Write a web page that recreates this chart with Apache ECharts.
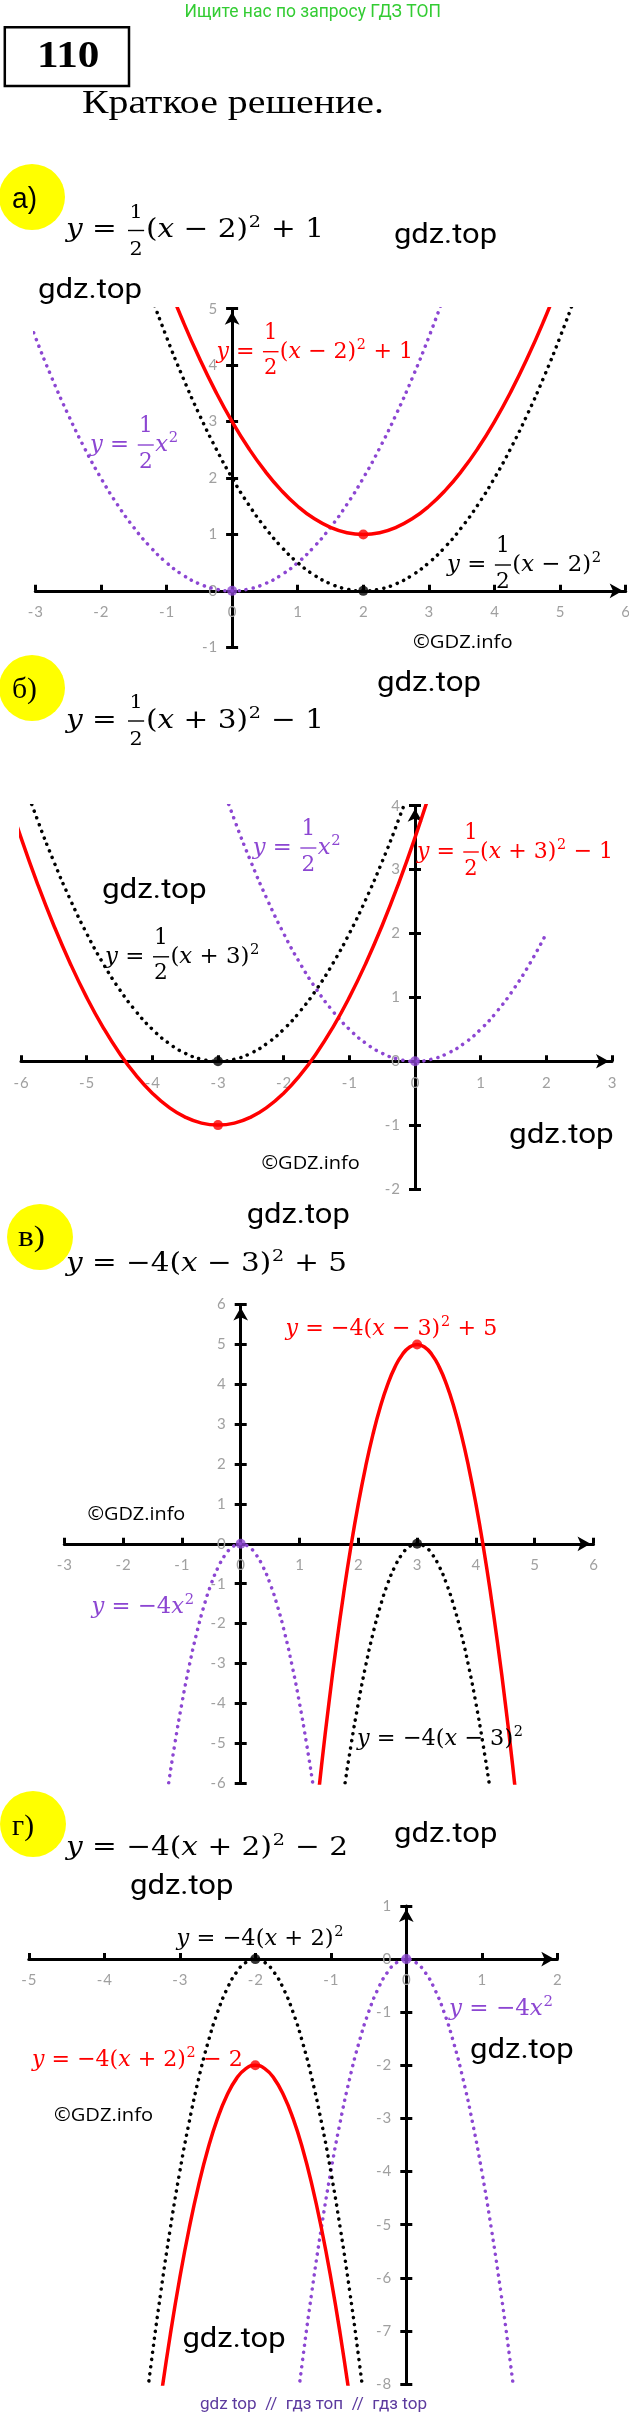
<!DOCTYPE html>
<html><head><meta charset="utf-8">
<script src="https://cdn.jsdelivr.net/npm/echarts@6.0.0/dist/echarts.min.js"></script>
<style>html,body{margin:0;padding:0;background:#fff}#c{width:629px;height:2419px}</style>
</head><body><div id="c"></div>
<script>
// ---------------- DATA ----------------
const panelLetters = ['а)', 'б)', 'в)', 'г)'];
const xRange = [[-3, 6], [-6, 3], [-3, 6], [-5, 2]];
const yRange = [[-1, 5], [-2, 4], [-6, 6], [-8, 1]];

// а)  y = ½x²,  y = ½(x−2)²,  y = ½(x−2)²+1
const aPurple = [[-3.25,5.28125],[-3,4.5],[-2.75,3.78125],[-2.5,3.125],[-2.25,2.53125],[-2,2],[-1.75,1.53125],[-1.5,1.125],[-1.25,0.78125],[-1,0.5],[-0.75,0.28125],[-0.5,0.125],[-0.25,0.03125],[0,0],[0.25,0.03125],[0.5,0.125],[0.75,0.28125],[1,0.5],[1.25,0.78125],[1.5,1.125],[1.75,1.53125],[2,2],[2.25,2.53125],[2.5,3.125],[2.75,3.78125],[3,4.5],[3.25,5.28125]];
const aBlack  = [[-1.5,6.125],[-1.25,5.28125],[-1,4.5],[-0.75,3.78125],[-0.5,3.125],[-0.25,2.53125],[0,2],[0.25,1.53125],[0.5,1.125],[0.75,0.78125],[1,0.5],[1.25,0.28125],[1.5,0.125],[1.75,0.03125],[2,0],[2.25,0.03125],[2.5,0.125],[2.75,0.28125],[3,0.5],[3.25,0.78125],[3.5,1.125],[3.75,1.53125],[4,2],[4.25,2.53125],[4.5,3.125],[4.75,3.78125],[5,4.5],[5.25,5.28125],[5.5,6.125]];
const aRed    = [[-1,5.5],[-0.75,4.78125],[-0.5,4.125],[-0.25,3.53125],[0,3],[0.25,2.53125],[0.5,2.125],[0.75,1.78125],[1,1.5],[1.25,1.28125],[1.5,1.125],[1.75,1.03125],[2,1],[2.25,1.03125],[2.5,1.125],[2.75,1.28125],[3,1.5],[3.25,1.78125],[3.5,2.125],[3.75,2.53125],[4,3],[4.25,3.53125],[4.5,4.125],[4.75,4.78125],[5,5.5]];
// б)  y = ½x²,  y = ½(x+3)²,  y = ½(x+3)²−1
const bPurple = [[-3.25,5.28125],[-3,4.5],[-2.75,3.78125],[-2.5,3.125],[-2.25,2.53125],[-2,2],[-1.75,1.53125],[-1.5,1.125],[-1.25,0.78125],[-1,0.5],[-0.75,0.28125],[-0.5,0.125],[-0.25,0.03125],[0,0],[0.25,0.03125],[0.5,0.125],[0.75,0.28125],[1,0.5],[1.25,0.78125],[1.5,1.125],[1.75,1.53125],[2,2]];
const bBlack  = [[-6.25,5.28125],[-6,4.5],[-5.75,3.78125],[-5.5,3.125],[-5.25,2.53125],[-5,2],[-4.75,1.53125],[-4.5,1.125],[-4.25,0.78125],[-4,0.5],[-3.75,0.28125],[-3.5,0.125],[-3.25,0.03125],[-3,0],[-2.75,0.03125],[-2.5,0.125],[-2.25,0.28125],[-2,0.5],[-1.75,0.78125],[-1.5,1.125],[-1.25,1.53125],[-1,2],[-0.75,2.53125],[-0.5,3.125],[-0.25,3.78125],[0,4.5],[0.25,5.28125]];
const bRed    = [[-6.25,4.28125],[-6,3.5],[-5.75,2.78125],[-5.5,2.125],[-5.25,1.53125],[-5,1],[-4.75,0.53125],[-4.5,0.125],[-4.25,-0.21875],[-4,-0.5],[-3.75,-0.71875],[-3.5,-0.875],[-3.25,-0.96875],[-3,-1],[-2.75,-0.96875],[-2.5,-0.875],[-2.25,-0.71875],[-2,-0.5],[-1.75,-0.21875],[-1.5,0.125],[-1.25,0.53125],[-1,1],[-0.75,1.53125],[-0.5,2.125],[-0.25,2.78125],[0,3.5],[0.25,4.28125],[0.5,5.125]];
// в)  y = −4x²,  y = −4(x−3)²,  y = −4(x−3)²+5
const vPurple = [[-1.5,-9],[-1.375,-7.5625],[-1.25,-6.25],[-1.125,-5.0625],[-1,-4],[-0.875,-3.0625],[-0.75,-2.25],[-0.625,-1.5625],[-0.5,-1],[-0.375,-0.5625],[-0.25,-0.25],[-0.125,-0.0625],[0,0],[0.125,-0.0625],[0.25,-0.25],[0.375,-0.5625],[0.5,-1],[0.625,-1.5625],[0.75,-2.25],[0.875,-3.0625],[1,-4],[1.125,-5.0625],[1.25,-6.25],[1.375,-7.5625],[1.5,-9]];
const vBlack  = [[1.5,-9],[1.625,-7.5625],[1.75,-6.25],[1.875,-5.0625],[2,-4],[2.125,-3.0625],[2.25,-2.25],[2.375,-1.5625],[2.5,-1],[2.625,-0.5625],[2.75,-0.25],[2.875,-0.0625],[3,0],[3.125,-0.0625],[3.25,-0.25],[3.375,-0.5625],[3.5,-1],[3.625,-1.5625],[3.75,-2.25],[3.875,-3.0625],[4,-4],[4.125,-5.0625],[4.25,-6.25],[4.375,-7.5625],[4.5,-9]];
const vRed    = [[1.25,-7.25],[1.375,-5.5625],[1.5,-4],[1.625,-2.5625],[1.75,-1.25],[1.875,-0.0625],[2,1],[2.125,1.9375],[2.25,2.75],[2.375,3.4375],[2.5,4],[2.625,4.4375],[2.75,4.75],[2.875,4.9375],[3,5],[3.125,4.9375],[3.25,4.75],[3.375,4.4375],[3.5,4],[3.625,3.4375],[3.75,2.75],[3.875,1.9375],[4,1],[4.125,-0.0625],[4.25,-1.25],[4.375,-2.5625],[4.5,-4],[4.625,-5.5625],[4.75,-7.25]];
// г)  y = −4x²,  y = −4(x+2)²,  y = −4(x+2)²−2
const gPurple = [[-1.5,-9],[-1.375,-7.5625],[-1.25,-6.25],[-1.125,-5.0625],[-1,-4],[-0.875,-3.0625],[-0.75,-2.25],[-0.625,-1.5625],[-0.5,-1],[-0.375,-0.5625],[-0.25,-0.25],[-0.125,-0.0625],[0,0],[0.125,-0.0625],[0.25,-0.25],[0.375,-0.5625],[0.5,-1],[0.625,-1.5625],[0.75,-2.25],[0.875,-3.0625],[1,-4],[1.125,-5.0625],[1.25,-6.25],[1.375,-7.5625],[1.5,-9]];
const gBlack  = [[-3.5,-9],[-3.375,-7.5625],[-3.25,-6.25],[-3.125,-5.0625],[-3,-4],[-2.875,-3.0625],[-2.75,-2.25],[-2.625,-1.5625],[-2.5,-1],[-2.375,-0.5625],[-2.25,-0.25],[-2.125,-0.0625],[-2,0],[-1.875,-0.0625],[-1.75,-0.25],[-1.625,-0.5625],[-1.5,-1],[-1.375,-1.5625],[-1.25,-2.25],[-1.125,-3.0625],[-1,-4],[-0.875,-5.0625],[-0.75,-6.25],[-0.625,-7.5625],[-0.5,-9]];
const gRed    = [[-3.375,-9.5625],[-3.25,-8.25],[-3.125,-7.0625],[-3,-6],[-2.875,-5.0625],[-2.75,-4.25],[-2.625,-3.5625],[-2.5,-3],[-2.375,-2.5625],[-2.25,-2.25],[-2.125,-2.0625],[-2,-2],[-1.875,-2.0625],[-1.75,-2.25],[-1.625,-2.5625],[-1.5,-3],[-1.375,-3.5625],[-1.25,-4.25],[-1.125,-5.0625],[-1,-6],[-0.875,-7.0625],[-0.75,-8.25],[-0.625,-9.5625]];

// vertices: purple, black, red
const aVertices = [[0,0],[2,0],[2,1]];
const bVertices = [[0,0],[-3,0],[-3,-1]];
const vVertices = [[0,0],[3,0],[3,5]];
const gVertices = [[0,0],[-2,0],[-2,-2]];

const titles = ['y = {1/2}(x − 2)^2 + 1', 'y = {1/2}(x + 3)^2 − 1', 'y = −4(x − 3)^2 + 5', 'y = −4(x + 2)^2 − 2'];
const purpleLabels = ['y = {1/2}x^2', 'y = {1/2}x^2', 'y = −4x^2', 'y = −4x^2'];
const blackLabels = ['y = {1/2}(x − 2)^2', 'y = {1/2}(x + 3)^2', 'y = −4(x − 3)^2', 'y = −4(x + 2)^2'];
const redLabels = ['y = {1/2}(x − 2)^2 + 1', 'y = {1/2}(x + 3)^2 − 1', 'y = −4(x − 3)^2 + 5', 'y = −4(x + 2)^2 − 2'];

const headerText = 'Ищите нас по запросу ГДЗ ТОП';
const problemNo = '110';
const subtitle = 'Краткое решение.';
const footerText = 'gdz top  //  гдз топ  //  гдз top';

// ---------------- LAYOUT / STYLE ----------------
const PURPLE = '#8c46d2', RED = '#ff0000', BLACK = '#000000', GRAY = '#a0a0a0';
const gridRects = [
  {left: 35.3, top: 308.7, width: 590.4, height: 338.6},
  {left: 21, top: 805.7, width: 591, height: 383.3},
  {left: 64.3, top: 1304.6, width: 529.2, height: 478.4},
  {left: 28.8, top: 1906, width: 528.5, height: 478}
];

const ctx = document.createElement('canvas').getContext('2d');
function tw(s, f) { ctx.font = f; return ctx.measureText(s).width; }
const MF = '"DejaVu Serif"';
function mfont(size, it) { return (it ? 'italic ' : 'normal ') + 'normal ' + size + 'px ' + MF; }

function formula(src, x0, x1, ym, fs, color, disp) {
  const kids = []; let cx = 0; let i = 0;
  const add = (s, x, y, size, it, align) => kids.push({type: 'text', x: x, y: y, z: 100,
    style: {text: s, fontFamily: MF, fontSize: size, fontStyle: it ? 'italic' : 'normal', fill: color,
      align: align || 'left', verticalAlign: 'middle'}});
  while (i < src.length) {
    const c = src[i];
    if (c === '{') {
      const j = src.indexOf('}', i);
      const parts = src.slice(i + 1, j).split('/');
      const ffs = disp ? fs * 0.95 : fs * 0.7;
      const w = Math.max(tw(parts[0], mfont(ffs)), tw(parts[1], mfont(ffs))) + fs * 0.22;
      add(parts[0], cx + w / 2, disp ? -0.82 * fs : -0.68 * fs, ffs, false, 'center');
      add(parts[1], cx + w / 2, disp ? 0.74 * fs : 0.76 * fs, ffs, false, 'center');
      kids.push({type: 'rect', z: 100, shape: {x: cx + fs * 0.06, y: -0.7, width: w - fs * 0.12, height: 1.4}, style: {fill: color}});
      cx += w; i = j + 1;
    } else if (c === '^') {
      const s = src[i + 1]; const sfs = fs * 0.65;
      add(s, cx + fs * 0.03, -0.3 * fs, sfs, false);
      cx += tw(s, mfont(sfs)) + fs * 0.05; i += 2;
    } else if (c === 'x' || c === 'y') {
      add(c, cx, 0, fs, true); cx += tw(c, mfont(fs, true)); i++;
    } else {
      let j = i; while (j < src.length && '{^xy'.indexOf(src[j]) < 0) j++;
      const s = src.slice(i, j); add(s, cx, 0, fs, false); cx += tw(s, mfont(fs)); i = j;
    }
  }
  return {type: 'group', x: x0, y: ym, scaleX: (x1 - x0) / cx, children: kids, z: 100};
}

function ftext(s, x0, x1, ym, fs, fam, color, weight) {
  const f = 'normal ' + (weight || 'normal') + ' ' + fs + 'px ' + fam;
  const w = tw(s, f);
  return {type: 'text', x: x0, y: ym, scaleX: (x1 - x0) / w, z: 100,
    style: {text: s, fontFamily: fam, fontSize: fs, fontWeight: weight || 'normal', fill: color, align: 'left', verticalAlign: 'middle'}};
}

const graphics = [];
graphics.push(ftext(headerText, 184.5, 441, 12, 18, 'Roboto', '#33cc33'));
graphics.push({type: 'rect', z: 100, shape: {x: 4.8, y: 27.3, width: 124.2, height: 58.7}, style: {fill: 'none', stroke: '#000', lineWidth: 2.5}});
graphics.push(ftext(problemNo, 37, 99.5, 57, 37, '"Liberation Serif"', '#000', 'bold'));
graphics.push(ftext(subtitle, 82, 384, 104, 33, '"Liberation Serif"', '#000'));

const circles = [[32, 197], [32, 688], [40, 1237], [33, 1824]];
const letterBoxes = [[12, 37, 200, '"Liberation Sans"'], [12, 37, 690, '"Liberation Serif"'], [18, 45, 1238, '"Liberation Serif"'], [12, 34, 1827, '"Liberation Serif"']];
circles.forEach((c, i) => {
  graphics.push({type: 'circle', z: 90, shape: {cx: c[0], cy: c[1], r: 33}, style: {fill: '#ffff00'}});
  const lb = letterBoxes[i];
  graphics.push(ftext(panelLetters[i], lb[0], lb[1], lb[2], 29, lb[3], '#000'));
});

const titlePos = [[66, 324, 230.5], [66, 324, 721], [66, 347, 1264], [66, 348, 1848]];
titles.forEach((t, i) => graphics.push(formula(t, titlePos[i][0], titlePos[i][1], titlePos[i][2], 26, '#000', false)));

const redPos = [[216.6, 413, 351.7], [417, 613, 852], [285.6, 497.4, 1328.6], [32, 242.7, 2060]];
const purplePos = [[90, 178.5, 445], [252.7, 341, 848], [91.5, 194.5, 1607], [449, 553.5, 2009]];
const blackPos = [[447, 601.7, 565], [105, 260, 956.8], [357, 523.5, 1739.3], [176.5, 344, 1938.6]];
for (let i = 0; i < 4; i++) {
  graphics.push(formula(redLabels[i], redPos[i][0], redPos[i][1], redPos[i][2], 23, RED, true));
  graphics.push(formula(purpleLabels[i], purplePos[i][0], purplePos[i][1], purplePos[i][2], 23, PURPLE, true));
  graphics.push(formula(blackLabels[i], blackPos[i][0], blackPos[i][1], blackPos[i][2], 23, BLACK, true));
}

const gdzPos = [[394, 497, 236], [38, 142, 291], [377, 481, 684], [102, 206.6, 891], [509, 613.7, 1136],
  [246.7, 349.8, 1215.5], [394, 497.4, 1835], [130, 233.5, 1887], [470, 573.6, 2051], [182.5, 285.6, 2340]];
gdzPos.forEach(p => graphics.push(ftext('gdz.top', p[0], p[1], p[2], 28, 'Roboto', '#000')));
const infoPos = [[413, 512.6, 643], [261.5, 359.8, 1164], [87.4, 185.3, 1515], [54, 153, 2116]];
infoPos.forEach(p => graphics.push(ftext('©GDZ.info', p[0], p[1], p[2], 19, '"Open Sans"', '#000')));
graphics.push(ftext(footerText, 200, 427, 2405, 17, 'Roboto', '#5c3a9e'));

// ---------------- AXES / SERIES ----------------
const fmt = v => (v < 0 ? '-\u200A' + Math.abs(v) : String(v));
const grids = [], xAxes = [], yAxes = [], series = [];
const curves = [[aPurple, aBlack, aRed], [bPurple, bBlack, bRed], [vPurple, vBlack, vRed], [gPurple, gBlack, gRed]];
const vertices = [aVertices, bVertices, vVertices, gVertices];
for (let i = 0; i < 4; i++) {
  const g = gridRects[i];
  grids.push(Object.assign({containLabel: false, outerBoundsMode: 'none'}, g));
  // move the axes onto the zero lines (axes cross at the origin)
  const xOff = -((0 - yRange[i][0]) / (yRange[i][1] - yRange[i][0])) * g.height;
  const yOff = -((0 - xRange[i][0]) / (xRange[i][1] - xRange[i][0])) * g.width;
  xAxes.push({type: 'value', gridIndex: i, min: xRange[i][0], max: xRange[i][1], interval: 1, position: 'bottom', offset: xOff,
    axisLine: {show: true, onZero: false, lineStyle: {color: '#000', width: 3},
      symbol: ['none', 'arrow'], symbolSize: [11, 13], symbolOffset: [0, -3]},
    axisTick: {show: true, inside: true, length: 6, lineStyle: {color: '#000', width: 3}},
    axisLabel: {show: true, color: GRAY, fontFamily: 'Lato', fontSize: 15, margin: 14, formatter: fmt},
    splitLine: {show: false}});
  yAxes.push({type: 'value', gridIndex: i, min: yRange[i][0], max: yRange[i][1], interval: 1, position: 'left', offset: yOff,
    axisLine: {show: true, onZero: false, lineStyle: {color: '#000', width: 3},
      symbol: ['none', 'arrow'], symbolSize: [11, 13], symbolOffset: [0, -3]},
    axisTick: {show: true, inside: false, length: 6, lineStyle: {color: '#000', width: 3}},
    axisLabel: {show: true, color: GRAY, fontFamily: 'Lato', fontSize: 15, margin: 15, formatter: fmt},
    splitLine: {show: false}});
  yAxes.push({type: 'value', gridIndex: i, min: yRange[i][0], max: yRange[i][1], interval: 1, position: 'left', offset: yOff,
    axisLine: {show: false, onZero: false},
    axisTick: {show: true, inside: true, length: 6, lineStyle: {color: '#000', width: 3}},
    axisLabel: {show: false}, splitLine: {show: false}});
  const common = {type: 'line', xAxisIndex: i, yAxisIndex: 2 * i, smooth: true, symbol: 'none', silent: true, animation: false, clip: true};
  series.push(Object.assign({}, common, {data: curves[i][0], z: 3, lineStyle: {color: PURPLE, width: 3.5, type: [0.1, 7], cap: 'round'}}));
  series.push(Object.assign({}, common, {data: curves[i][1], z: 3, lineStyle: {color: BLACK, width: 3.5, type: [0.1, 7], cap: 'round'}}));
  series.push(Object.assign({}, common, {data: curves[i][2], z: 4, lineStyle: {color: RED, width: 3.5}}));
  series.push({type: 'scatter', xAxisIndex: i, yAxisIndex: 2 * i, symbolSize: 10, z: 5, silent: true, animation: false,
    data: vertices[i].map((p, k) => ({value: p, itemStyle: {color: [PURPLE, BLACK, RED][k]}}))});
}

const chart = echarts.init(document.getElementById('c'), null, {renderer: 'canvas'});
chart.setOption({
  animation: false,
  backgroundColor: '#ffffff',
  grid: grids, xAxis: xAxes, yAxis: yAxes, series: series,
  graphic: {elements: graphics}
});
</script></body></html>
